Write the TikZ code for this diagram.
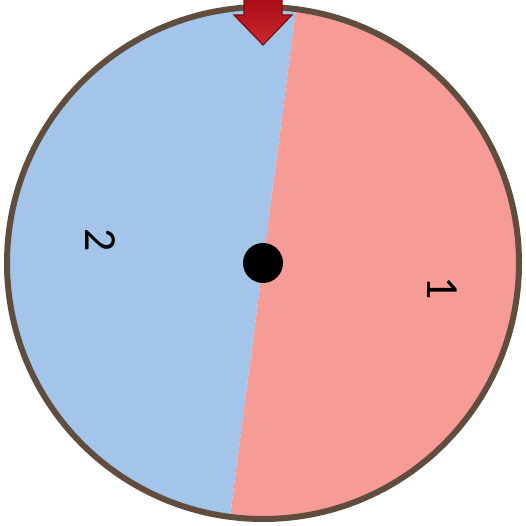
\documentclass[tikz,border=0pt]{standalone}
\usepackage{fontspec}
\setmainfont{Carlito}
\definecolor{wblue}{RGB}{163,197,234}
\definecolor{wred}{RGB}{247,155,150}
\definecolor{wrim}{RGB}{96,77,62}
\definecolor{arrfill}{RGB}{200,16,26}
\definecolor{arrline}{RGB}{120,14,14}
\begin{document}
\begin{tikzpicture}[x=1pt,y=1pt,
  rim/.style={draw=wrim,line width=6pt},
  lbl/.style={font=\fontsize{46}{46}\selectfont,text=black,inner sep=0pt}]
\useasboundingbox (0,0) rectangle (526,526);
\coordinate (c) at (263,263);
\fill[wred] (c) -- ++(82.6:256) arc[start angle=82.6,end angle=-97.4,radius=256] -- cycle;
\fill[wblue] (c) -- ++(82.6:256) arc[start angle=82.6,end angle=262.6,radius=256] -- cycle;
\draw[rim] (c) circle[radius=256];
\node[circle,fill=black,minimum size=40pt,inner sep=0pt] (hub) at (c) {};
\node[lbl,rotate=-90] (l2) at (100,286) {2};
\node[lbl,rotate=-90] (l1) at (442,238) {1};
\draw[arrline,line width=1.2pt,top color=arrfill!85!black,bottom color=arrfill!90!white,line join=miter]
  (244,527) -- (244,511) -- (234,511) -- (263,481) -- (292,511) -- (282,511) -- (282,527);
\end{tikzpicture}
\end{document}
